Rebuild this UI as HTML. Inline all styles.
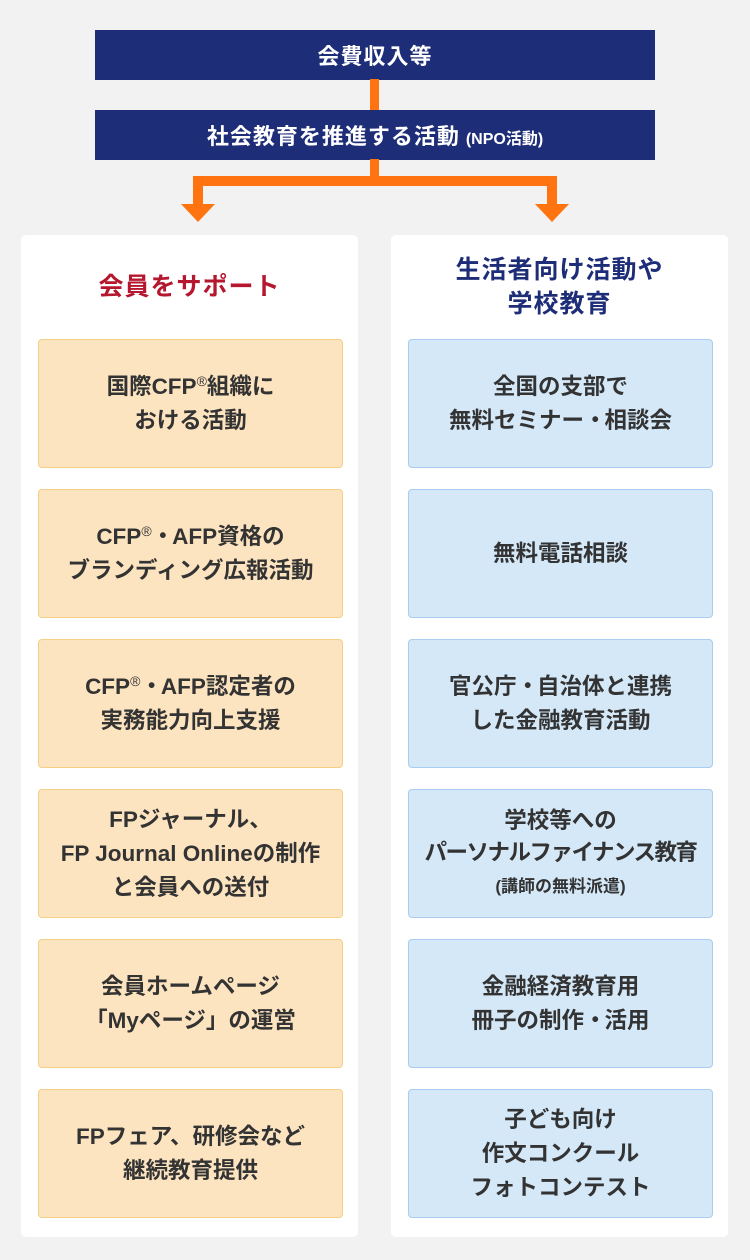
<!DOCTYPE html>
<html><head><meta charset="utf-8"><style>
*{margin:0;padding:0;box-sizing:border-box}
body{width:750px;height:1260px;background:#f2f2f2;position:relative;overflow:hidden;font-family:"Liberation Sans","Noto Sans CJK JP",sans-serif;font-weight:bold}
.nav{position:absolute;left:95px;width:560px;height:50px;background:#1e2d78;color:#fff;font-size:22px;display:flex;align-items:center;justify-content:center;letter-spacing:1px}
.or{position:absolute;background:#ff7410}
.panel{position:absolute;top:235px;width:337px;height:1002px;background:#fff;border-radius:5px}
.h{position:absolute;width:337px;text-align:center;font-size:25px;line-height:34px;letter-spacing:1px}
.b{position:absolute;width:305px;height:129px;border-radius:4px;display:flex;align-items:center;justify-content:center;text-align:center;font-size:22.5px;line-height:34px;color:#333}
.l{left:38px;background:#fde4c0;border:1px solid #f5cf84}
.r{left:408px;background:#d4e8f8;border:1px solid #a8cdf0}
sup{font-size:14px;font-weight:normal;vertical-align:8px;line-height:0}
.d{letter-spacing:-4px;margin-right:2px}
</style></head><body>
<div class="nav" style="top:30px">会費収入等</div>
<div class="or" style="left:370px;top:79px;width:9px;height:32px"></div>
<div class="nav" style="top:110px"><div>社会教育を推進する活動<span style="font-size:16px;margin-left:6px;letter-spacing:0">(NPO活動)</span></div></div>
<div class="or" style="left:370px;top:159px;width:9px;height:27px"></div>
<div class="or" style="left:193px;top:176px;width:364px;height:10px"></div>
<div class="or" style="left:193px;top:176px;width:10px;height:30px"></div>
<div class="or" style="left:547px;top:176px;width:10px;height:30px"></div>
<svg style="position:absolute;left:0;top:0" width="750" height="260"><polygon points="181,204 215,204 198,222" fill="#ff7410"/><polygon points="535,204 569,204 552,222" fill="#ff7410"/></svg>
<div class="panel" style="left:21px"></div>
<div class="panel" style="left:391px"></div>
<div class="h" style="left:21px;top:270px;color:#b5172f">会員をサポート</div>
<div class="h" style="left:391px;top:253px;color:#1e2d78">生活者向け活動や<br>学校教育</div>
<div class="b l" style="top:339px"><div>国際CFP<sup>®</sup>組織に<br>おける活動</div></div>
<div class="b l" style="top:489px"><div>CFP<sup>®</sup><span class="d">・</span>AFP資格の<br>ブランディング広報活動</div></div>
<div class="b l" style="top:639px"><div>CFP<sup>®</sup><span class="d">・</span>AFP認定者の<br>実務能力向上支援</div></div>
<div class="b l" style="top:789px"><div>FPジャーナル、<br>FP Journal Onlineの制作<br>と会員への送付</div></div>
<div class="b l" style="top:939px"><div>会員ホームページ<br>「Myページ」の運営</div></div>
<div class="b l" style="top:1089px"><div>FPフェア、研修会など<br>継続教育提供</div></div>
<div class="b r" style="top:339px"><div>全国の支部で<br>無料セミナー<span class="d">・</span>相談会</div></div>
<div class="b r" style="top:489px"><div>無料電話相談</div></div>
<div class="b r" style="top:639px"><div>官公庁<span class="d">・</span>自治体と連携<br>した金融教育活動</div></div>
<div class="b r" style="top:789px;line-height:32px"><div>学校等への<br><span style="letter-spacing:-1.5px">パーソナルファイナンス教育</span><br><span style="font-size:17px">(講師の無料派遣)</span></div></div>
<div class="b r" style="top:939px"><div>金融経済教育用<br>冊子の制作<span class="d">・</span>活用</div></div>
<div class="b r" style="top:1089px"><div>子ども向け<br>作文コンクール<br>フォトコンテスト</div></div>
</body></html>
